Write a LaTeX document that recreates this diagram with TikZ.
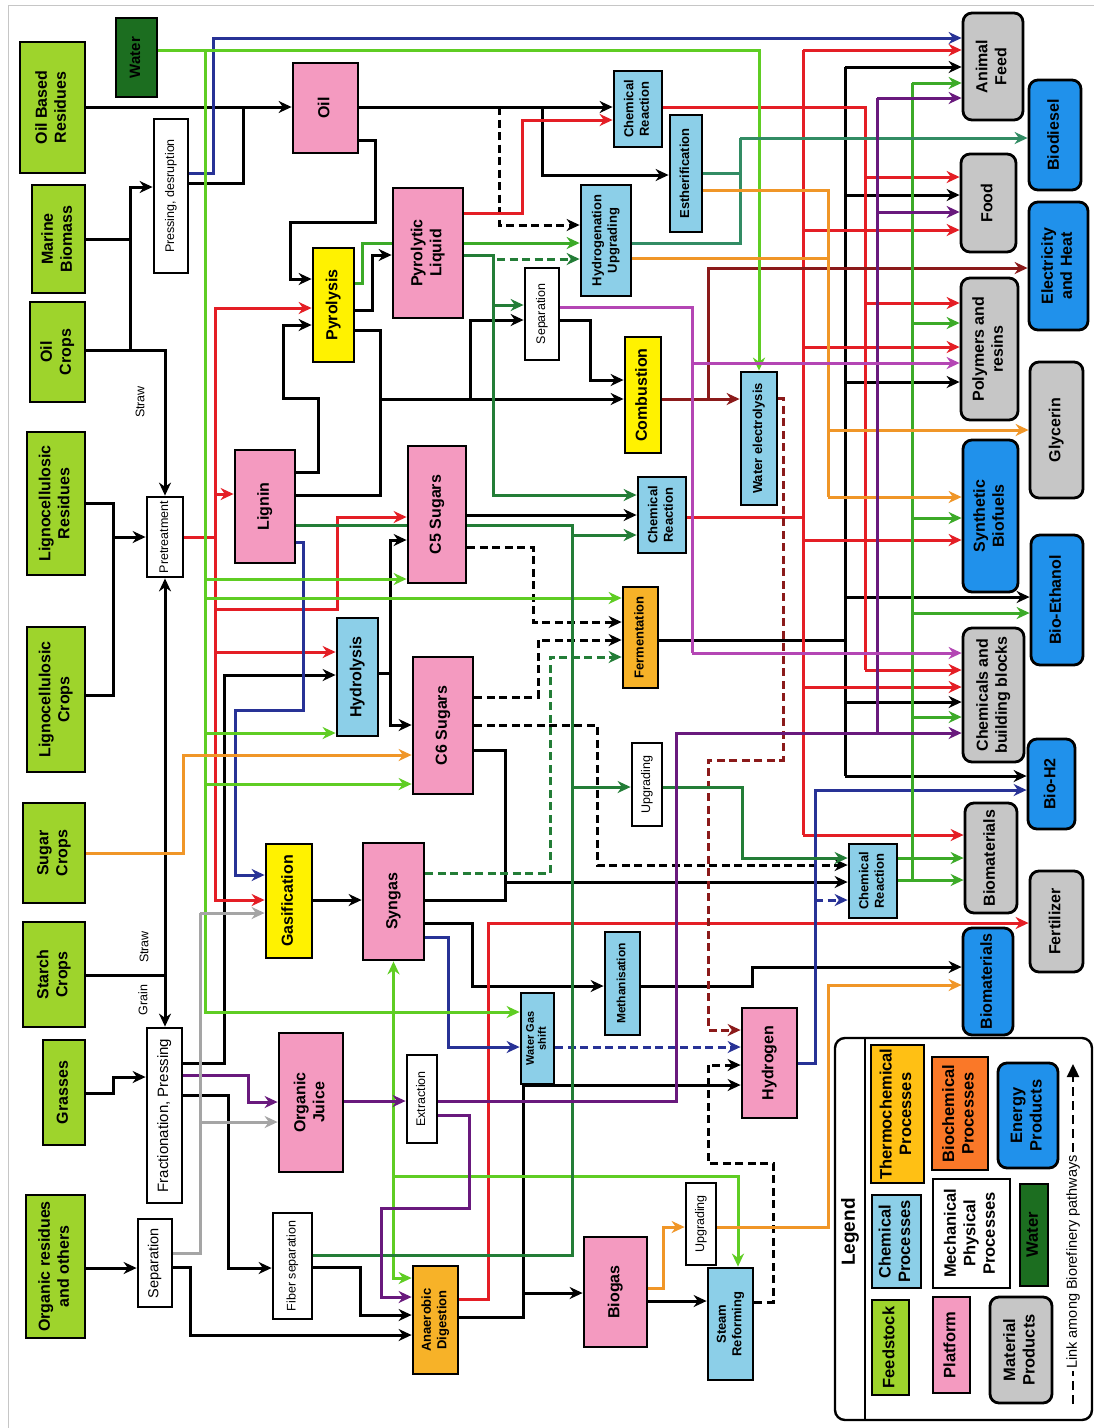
\documentclass[tikz,border=0pt]{standalone}
\usepackage{fontspec}
\usepackage{graphicx}
\setmainfont{Liberation Sans}
\usetikzlibrary{arrows.meta}
\pgfdeclarelayer{bg}
\pgfsetlayers{bg,main}
\definecolor{cFeed}{RGB}{158,212,44}
\definecolor{cWater}{RGB}{28,110,32}
\definecolor{cPink}{RGB}{244,154,192}
\definecolor{cYel}{RGB}{255,242,0}
\definecolor{cGold}{RGB}{247,178,40}
\definecolor{cSky}{RGB}{140,207,232}
\definecolor{cGrayF}{RGB}{198,198,198}
\definecolor{cEner}{RGB}{32,145,235}
\definecolor{cThL}{RGB}{255,192,20}
\definecolor{cBiL}{RGB}{250,120,40}
\definecolor{cRed}{RGB}{228,30,37}
\definecolor{cDred}{RGB}{139,26,26}
\definecolor{cBlue}{RGB}{40,50,150}
\definecolor{cLime}{RGB}{95,205,35}
\definecolor{cGreen}{RGB}{60,170,40}
\definecolor{cDgreen}{RGB}{35,125,55}
\definecolor{cTeal}{RGB}{50,140,100}
\definecolor{cOrange}{RGB}{240,150,40}
\definecolor{cPurple}{RGB}{105,25,125}
\definecolor{cMag}{RGB}{180,70,180}
\definecolor{cGray}{RGB}{165,165,165}
\newcommand{\mkbox}[7]{\node[#1, minimum width={(#5-#3)*1pt}, minimum height={(#6-#4)*1pt}] (#2) at ({(#3+#5)/2},{(#4+#6)/2}) {\rotatebox{90}{\begin{tabular}{@{}c@{}}#7\end{tabular}}};}
\begin{document}
\begin{tikzpicture}[x=1pt,y=-1pt,
 bxb/.style={draw, line width=2.8pt, inner sep=0pt},
 feed/.style={bxb, fill=cFeed, font=\fontsize{16}{19}\selectfont\bfseries},
 water/.style={bxb, fill=cWater, font=\fontsize{15}{18}\selectfont\bfseries},
 plat/.style={bxb, fill=cPink, font=\fontsize{16}{19}\selectfont\bfseries},
 thermo/.style={bxb, fill=cYel, font=\fontsize{16}{19}\selectfont\bfseries},
 bio/.style={bxb, fill=cGold, font=\fontsize{13}{15.5}\selectfont\bfseries},
 chem/.style={bxb, fill=cSky, font=\fontsize{13}{15.5}\selectfont\bfseries},
 mech/.style={bxb, fill=white, font=\fontsize{12.5}{15}\selectfont},
 mechL/.style={bxb, fill=white, font=\fontsize{15}{18}\selectfont},
 mat/.style={bxb, fill=cGrayF, rounded corners=9pt, font=\fontsize{16}{19}\selectfont\bfseries},
 ener/.style={bxb, fill=cEner, rounded corners=9pt, font=\fontsize{16}{19}\selectfont\bfseries},
 lgfont/.style={font=\fontsize{16.5}{19.5}\selectfont\bfseries},
 lin/.style={line width=3pt},
 arr/.style={line width=3pt, -{Stealth[length=13pt,width=12pt]}},
 dsh/.style={dash pattern=on 8pt off 4.5pt},
 lbl/.style={font=\fontsize{12.5}{15}\selectfont, inner sep=1pt}
]
\useasboundingbox (0,0) rectangle (1094,1428);
\begin{pgfonlayer}{bg}
\fill[white] (0,0) rectangle (1094,1428);
\draw[gray!45, line width=1pt] (8,1428) -- (8,5) -- (1094,5);
\end{pgfonlayer}

% ---------- feedstock ----------
\mkbox{feed}{obr}{20}{42}{85}{173}{Oil Based\\Residues}
\mkbox{feed}{mar}{32}{185}{85}{293}{Marine\\Biomass}
\mkbox{feed}{ocr}{30}{302}{85}{402}{Oil\\Crops}
\mkbox{feed}{lres}{27}{432}{85}{575}{Lignocellulosic\\Residues}
\mkbox{feed}{lcrp}{27}{627}{85}{772}{Lignocellulosic\\Crops}
\mkbox{feed}{sug}{23}{803}{85}{903}{Sugar\\Crops}
\mkbox{feed}{sta}{23}{922}{85}{1027}{Starch\\Crops}
\mkbox{feed}{gra}{43}{1040}{85}{1145}{Grasses}
\mkbox{feed}{org}{26}{1195}{85}{1338}{Organic residues\\and others}
\mkbox{water}{wat}{116}{18}{157}{97}{Water}
% ---------- mechanical ----------
\mkbox{mech}{press}{154}{119}{188}{273}{Pressing, desruption}
\mkbox{mech}{pret}{147}{497}{183}{577}{Pretreatment}
\mkbox{mechL}{frac}{147}{1028}{182}{1203}{Fractionation, Pressing}
\mkbox{mechL, font=\fontsize{14.5}{17}\selectfont}{sepL}{138}{1219}{172}{1307}{Separation}
\mkbox{mech}{fib}{273}{1213}{312}{1319}{Fiber separation}
\mkbox{mech}{extr}{407}{1055}{437}{1143}{Extraction}
\mkbox{mech}{sepU}{525}{268}{559}{360}{Separation}
\mkbox{mech}{upg1}{632}{743}{662}{826}{Upgrading}
\mkbox{mech}{upg2}{686}{1183}{716}{1265}{Upgrading}
% ---------- platforms ----------
\mkbox{plat}{oil}{293}{63}{358}{153}{Oil}
\mkbox{plat}{pliq}{393}{188}{463}{318}{Pyrolytic\\Liquid}
\mkbox{plat}{lig}{235}{450}{295}{563}{Lignin}
\mkbox{plat}{c5}{408}{446}{466}{583}{C5 Sugars}
\mkbox{plat}{c6}{413}{657}{473}{794}{C6 Sugars}
\mkbox{plat}{syn}{363}{843}{424}{960}{Syngas}
\mkbox{plat}{oj}{279}{1033}{343}{1172}{Organic\\Juice}
\mkbox{plat}{biog}{584}{1237}{647}{1347}{Biogas}
\mkbox{plat}{hyd}{742}{1008}{797}{1118}{Hydrogen}
% ---------- thermochemical ----------
\mkbox{thermo}{pyr}{313}{248}{354}{362}{Pyrolysis}
\mkbox{thermo}{comb}{625}{337}{661}{453}{Combustion}
\mkbox{thermo}{gas}{266}{844}{312}{958}{Gasification}
% ---------- biochemical ----------
\mkbox{bio}{ferm}{623}{587}{658}{688}{Fermentation}
\mkbox{bio}{ad}{413}{1266}{458}{1374}{Anaerobic\\Digestion}
% ---------- chemical ----------
\mkbox{chem}{cr1}{614}{71}{662}{147}{Chemical\\Reaction}
\mkbox{chem}{est}{670}{115}{702}{232}{Estherification}
\mkbox{chem}{hu}{581}{185}{631}{296}{Hydrogenation\\Upgrading}
\mkbox{chem}{cr2}{638}{477}{686}{553}{Chemical\\Reaction}
\mkbox{chem}{wel}{741}{372}{777}{505}{Water electrolysis}
\mkbox{chem, font=\fontsize{16}{19}\selectfont\bfseries}{hyl}{337}{618}{378}{736}{Hydrolysis}
\mkbox{chem, font=\fontsize{12}{14}\selectfont\bfseries}{meth}{605}{932}{640}{1035}{Methanisation}
\mkbox{chem, font=\fontsize{11}{12}\selectfont\bfseries}{wgs}{521}{993}{554}{1084}{Water Gas\\shift}
\mkbox{chem}{cr3}{849}{844}{897}{918}{Chemical\\Reaction}
\mkbox{chem}{sr}{708}{1268}{753}{1380}{Steam\\Reforming}
% ---------- material products ----------
\mkbox{mat}{afeed}{963}{13}{1023}{120}{Animal\\Feed}
\mkbox{mat}{food}{961}{154}{1016}{252}{Food}
\mkbox{mat}{poly}{961}{278}{1018}{420}{Polymers and\\resins}
\mkbox{mat}{gly}{1030}{362}{1083}{498}{Glycerin}
\mkbox{mat}{cbb}{963}{628}{1024}{762}{Chemicals and\\building blocks}
\mkbox{mat}{biom}{965}{803}{1017}{913}{Biomaterials}
\mkbox{mat}{fert}{1030}{871}{1083}{972}{Fertilizer}
% ---------- energy products ----------
\mkbox{ener}{bdsl}{1029}{80}{1081}{190}{Biodiesel}
\mkbox{ener}{elec}{1029}{202}{1088}{330}{Electricity\\and Heat}
\mkbox{ener}{sbf}{963}{440}{1018}{592}{Synthetic\\Biofuels}
\mkbox{ener}{beth}{1031}{535}{1083}{665}{Bio-Ethanol}
\mkbox{ener}{bh2}{1028}{739}{1075}{829}{Bio-H2}
\mkbox{ener}{biomb}{963}{928}{1013}{1035}{Biomaterials}
% ---------- labels ----------
\node[lbl, rotate=90] (straw1) at (140,402) {Straw};
\node[lbl, rotate=90] (straw2) at (144,947) {Straw};
\node[lbl, rotate=90] (grain) at (143,1000) {Grain};

% ---------- legend ----------
\node[draw, line width=2.4pt, rounded corners=10pt, minimum width=257pt, minimum height=382pt] (legbox) at (963.5,1229) {};
\draw[line width=2.4pt] (865,1039) -- (865,1419);
\node[rotate=90, font=\fontsize{19}{22}\selectfont\bfseries] (legt) at (850,1232) {Legend};
\mkbox{bxb, fill=cThL, lgfont}{lgT}{871}{1045}{924}{1183}{Thermochemical\\Processes}
\mkbox{bxb, fill=cBiL, lgfont}{lgB}{932}{1057}{988}{1170}{Biochemical\\Processes}
\mkbox{ener, lgfont}{lgE}{998}{1063}{1058}{1168}{Energy\\Products}
\mkbox{chem, lgfont}{lgC}{872}{1195}{921}{1288}{Chemical\\Processes}
\mkbox{mech, lgfont}{lgM}{933}{1179}{1010}{1288}{Mechanical\\Physical\\Processes}
\mkbox{water, lgfont}{lgW}{1020}{1184}{1048}{1286}{Water}
\mkbox{feed, lgfont}{lgF}{872}{1300}{909}{1395}{Feedstock}
\mkbox{plat, lgfont}{lgP}{933}{1297}{970}{1393}{Platform}
\mkbox{mat, lgfont}{lgMat}{990}{1297}{1052}{1403}{Material\\Products}
\coordinate (lk1) at (1073,1404);
\coordinate (lk2) at (1073,1064);
\draw[line width=2.4pt, dash pattern=on 9pt off 5pt, -{Triangle[length=13pt,width=12pt]}] (lk1) -- (lk2);
\node[rotate=90, fill=white, inner sep=2pt, font=\fontsize{14.5}{17}\selectfont] (link) at (1073,1262) {Link among Biorefinery pathways};

% ---------- connectors ----------
\begin{pgfonlayer}{bg}
% black
\draw[arr] (obr.east|-0,107) -- (oil.west|-0,107);
\draw[lin] (press.east|-0,183) -| (243,107);
\draw[lin] (mar.east|-0,239) -- (130,239);
\draw[arr] (ocr.east|-0,350) -| (130,187) -- (press.west|-0,187);
\draw[arr] (ocr.east|-0,350) -| (pret.north);
\draw[lin] (lres.east|-0,503) -| (113,537);
\draw[arr] (lcrp.east|-0,695) -| (113,537) -- (pret.west|-0,537);
\draw[lin] (sta.east|-0,975) -- (pret.south|-0,975);
\draw[arr] (pret.south|-0,975) -- (pret.south);
\draw[arr] (pret.south|-0,975) -- (pret.south|-frac.north);
\draw[arr] (gra.east|-0,1093) -- (113,1093) -- (113,1077) -- (frac.west|-0,1077);
\draw[arr] (org.east|-0,1268) -- (sepL.west|-0,1268);
\draw[arr] (sepL.east|-0,1267) -- (190,1267) |- (ad.west|-0,1335);
\draw[arr] (frac.east|-0,1095) -- (228,1095) |- (fib.west|-0,1268);
\draw[arr] (fib.east|-0,1267) -- (360,1267) |- (ad.west|-0,1315);
\draw[arr] (frac.east|-0,1063) -- (224,1063) |- (hyl.west|-0,675);
\draw[lin] (hyl.east|-0,673) -- (390,673);
\draw[arr] (390,673) |- (c5.west|-0,540);
\draw[arr] (390,673) |- (c6.west|-0,725);
\draw[arr] (gas.east|-0,900) -- (syn.west|-0,900);
\draw[lin] (syn.east|-0,900) -| (505,882);
\draw[arr] (c6.east|-0,750) -| (505,882) -- (cr3.west|-0,882);
\draw[arr] (syn.east|-0,923) -- (472,923) |- (meth.west|-0,986);
\draw[arr] (meth.east|-0,986) -- (752,986) |- (biomb.west|-0,967);
\draw[arr] (ad.east|-0,1317) -- (523,1317) |- (biog.west|-0,1293);
\draw[arr] (523,1293) |- (hyd.west|-0,1085);
\draw[arr] (biog.east|-0,1301) -- (sr.west|-0,1301);
\draw[arr] (oil.east|-0,107) -- (cr1.west|-0,107);
\draw[arr] (542,107) |- (est.west|-0,175);
\draw[arr] (oil.east|-0,140) -- (375,140) -- (375,222) -- (290,222) |- (pyr.west|-0,279);
\draw[arr] (lig.east|-0,472) -- (318,472) -- (318,398) -- (283,398) |- (pyr.west|-0,325);
\draw[arr] (pyr.east|-0,310) -- (372,310) |- (pliq.west|-0,255);
\draw[lin] (pyr.east|-0,330) -| (380,495) -- (lig.east|-0,495);
\draw[arr] (380,399) -- (comb.west|-0,399);
\draw[arr] (470,399) |- (sepU.west|-0,320);
\draw[arr] (sepU.east|-0,320) -| (590,380) -- (comb.west|-0,380);
\draw[lin] (ferm.east|-0,640) -- (845,640);
\draw[lin] (845,67) -- (845,776);
\draw[arr] (845,67) -- (afeed.west|-0,67);
\draw[arr] (845,195) -- (food.west|-0,195);
\draw[arr] (845,382) -- (poly.west|-0,382);
\draw[arr] (845,597) -- (beth.west|-0,597);
\draw[arr] (845,702) -- (cbb.west|-0,702);
\draw[arr] (845,776) -- (bh2.west|-0,776);
\draw[arr] (c5.east|-0,515) -- (cr2.west|-0,515);
% black dashed
\draw[arr,dsh] (499,107) |- (hu.west|-0,225);
\draw[arr,dsh] (c5.east|-0,547) -- (533,547) |- (ferm.west|-0,622);
\draw[arr,dsh] (c6.east|-0,697) -- (538,697) |- (ferm.west|-0,640);
\draw[arr,dsh] (c6.east|-0,725) -- (597,725) |- (cr3.west|-0,865);
\draw[arr,dsh] (sr.east|-0,1302) -- (773,1302) -- (773,1163) -- (708,1163) |- (hyd.west|-0,1065);
% red
\draw[lin,cRed] (pret.east|-0,537) -- (215,537);
\draw[arr,cRed] (215,537) |- (pyr.west|-0,308);
\draw[arr,cRed] (215,537) |- (lig.west|-0,494);
\draw[arr,cRed] (215,537) |- (337,609) -- (337,517) -- (c5.west|-0,517);
\draw[arr,cRed] (215,537) |- (hyl.west|-0,652);
\draw[arr,cRed] (215,537) |- (gas.west|-0,900);
\draw[arr,cRed] (pliq.east|-0,213) -- (522,213) |- (cr1.west|-0,120);
\draw[lin,cRed] (cr1.east|-0,107) -- (865,107) -- (865,670);
\draw[arr,cRed] (865,177) -- (food.west|-0,177);
\draw[arr,cRed] (865,303) -- (poly.west|-0,303);
\draw[arr,cRed] (865,670) -- (cbb.west|-0,670);
\draw[lin,cRed] (cr2.east|-0,517) -- (803,517);
\draw[lin,cRed] (803,50) -- (803,835);
\draw[arr,cRed] (803,50) -- (afeed.west|-0,50);
\draw[arr,cRed] (803,230) -- (food.west|-0,230);
\draw[arr,cRed] (803,347) -- (poly.west|-0,347);
\draw[arr,cRed] (803,540) -- (sbf.west|-0,540);
\draw[arr,cRed] (803,687) -- (cbb.west|-0,687);
\draw[arr,cRed] (803,835) -- (biom.west|-0,835);
\draw[arr,cRed] (ad.east|-0,1299) -- (488,1299) |- (fert.west|-0,923);
% dark red
\draw[arr,cDred] (comb.east|-0,399) -- (wel.west|-0,399);
\draw[arr,cDred] (708,399) |- (elec.west|-0,268);
\draw[arr,cDred,dsh] (wel.east|-0,398) -- (783,398) -- (783,760) -- (708,760) |- (hyd.west|-0,1030);
% blue
\draw[arr,cBlue] (press.east|-0,173) -- (213,173) |- (afeed.west|-0,38);
\draw[arr,cBlue] (lig.east|-0,542) -- (303,542) -- (303,710) -- (235,710) |- (gas.west|-0,875);
\draw[arr,cBlue] (syn.east|-0,937) -- (448,937) |- (wgs.west|-0,1047);
\draw[arr,cBlue,dsh] (wgs.east|-0,1047) -- (hyd.west|-0,1047);
\draw[arr,cBlue] (hyd.east|-0,1063) -- (815,1063) |- (bh2.west|-0,790);
\draw[arr,cBlue,dsh] (815,900) -- (cr3.west|-0,900);
% water (lime green)
\draw[arr,cLime] (wat.east|-0,50) -| (wel.north);
\draw[lin,cLime] (205,50) -- (205,1012);
\draw[arr,cLime] (205,50) |- (c5.west|-0,579);
\draw[arr,cLime] (205,50) |- (ferm.west|-0,598);
\draw[arr,cLime] (205,50) |- (hyl.west|-0,733);
\draw[arr,cLime] (205,50) |- (c6.west|-0,784);
\draw[arr,cLime] (205,50) |- (wgs.west|-0,1012);
\draw[arr,cLime] (syn.south|-0,1012) -- (syn.south);
\draw[arr,cLime] (syn.south|-0,1012) |- (ad.west|-0,1278);
\draw[arr,cLime] (syn.south|-0,1176) -- (738,1176) -- (sr.north-|738,0);
% greens
\draw[arr,cGreen] (pyr.east|-0,283) -- (362,283) |- (hu.west|-0,243);
\draw[lin,cDgreen] (pliq.east|-0,255) -- (493,255) -- (493,495);
\draw[arr,cDgreen] (493,255) |- (sepU.west|-0,305);
\draw[arr,cDgreen] (493,255) |- (cr2.west|-0,495);
\draw[arr,cDgreen,dsh] (497,259) -- (hu.west|-0,259);
\draw[lin,cDgreen] (lig.east|-0,525) -- (572,525) -- (572,1255) -- (fib.east|-0,1255);
\draw[arr,cDgreen] (572,525) |- (cr2.west|-0,535);
\draw[arr,cDgreen] (572,525) |- (upg1.west|-0,787);
\draw[arr,cDgreen] (upg1.east|-0,787) -- (742,787) |- (cr3.west|-0,858);
\draw[arr,cDgreen,dsh] (syn.east|-0,873) -- (550,873) |- (ferm.west|-0,657);
\draw[arr,cGreen] (cr3.east|-0,858) -- (biom.west|-0,858);
\draw[arr,cGreen] (cr3.east|-0,880) -- (biom.west|-0,880);
\draw[lin,cGreen] (912,880) -- (912,83);
\draw[arr,cGreen] (912,83) -- (afeed.west|-0,83);
\draw[arr,cGreen] (912,323) -- (poly.west|-0,323);
\draw[arr,cGreen] (912,518) -- (sbf.west|-0,518);
\draw[arr,cGreen] (912,613) -- (beth.west|-0,613);
\draw[arr,cGreen] (912,717) -- (cbb.west|-0,717);
% teal
\draw[lin,cTeal] (hu.east|-0,243) -- (740,243) -- (740,138);
\draw[lin,cTeal] (est.east|-0,173) -- (740,173);
\draw[arr,cTeal] (740,138) -- (bdsl.west|-0,138);
% orange
\draw[lin,cOrange] (est.east|-0,190) -- (828,190) -- (828,497);
\draw[lin,cOrange] (hu.east|-0,258) -- (828,258);
\draw[arr,cOrange] (828,430) -- (gly.west|-0,430);
\draw[arr,cOrange] (828,497) -- (sbf.west|-0,497);
\draw[arr,cOrange] (sug.east|-0,853) -- (183,853) |- (c6.west|-0,755);
\draw[arr,cOrange] (biog.east|-0,1288) -- (663,1288) |- (upg2.west|-0,1227);
\draw[arr,cOrange] (upg2.east|-0,1227) -- (828,1227) |- (biomb.west|-0,985);
% purple
\draw[arr,cPurple] (frac.east|-0,1075) -- (248,1075) |- (oj.west|-0,1102);
\draw[arr,cPurple] (oj.east|-0,1101) -- (extr.west|-0,1101);
\draw[lin,cPurple] (extr.east|-0,1101) -- (676,1101) -- (676,733) -- (877,733);
\draw[arr,cPurple] (877,733) -- (cbb.west|-0,733);
\draw[lin,cPurple] (877,733) -- (877,98);
\draw[arr,cPurple] (877,98) -- (afeed.west|-0,98);
\draw[arr,cPurple] (877,212) -- (food.west|-0,212);
\draw[arr,cPurple] (extr.east|-0,1115) -- (469,1115) -- (469,1208) -- (381,1208) |- (ad.west|-0,1297);
% magenta
\draw[lin,cMag] (sepU.east|-0,307) -- (692,307) -- (692,653);
\draw[arr,cMag] (692,363) -- (poly.west|-0,363);
\draw[arr,cMag] (692,653) -- (cbb.west|-0,653);
% gray
\draw[lin,cGray] (sepL.east|-0,1253) -- (200,1253) -- (200,913);
\draw[arr,cGray] (200,913) -- (gas.west|-0,913);
\draw[arr,cGray] (200,1122) -- (oj.west|-0,1122);
\end{pgfonlayer}
\end{tikzpicture}
\end{document}
